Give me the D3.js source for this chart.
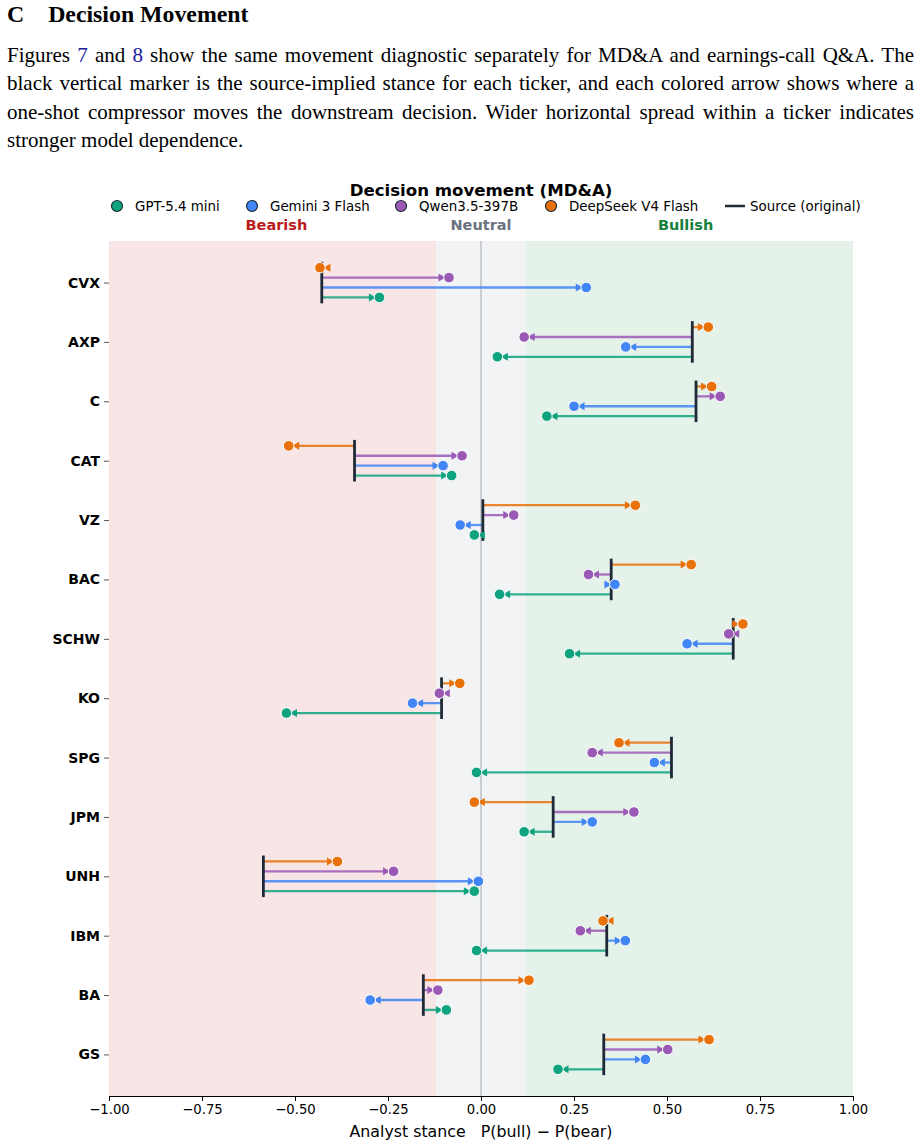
<!DOCTYPE html>
<html>
<head>
<meta charset="utf-8">
<script src="https://cdn.jsdelivr.net/npm/d3@7"></script>
<style>
  body { margin: 0; background: #fff; width: 921px; height: 1146px; position: relative; overflow: hidden; }
  .heading { position: absolute; left: 7px; top: 1px; font-family: "Liberation Serif", serif; font-weight: bold; font-size: 23.8px; color: #000; }
  .para { position: absolute; left: 7px; top: 41px; width: 907px; font-family: "Liberation Serif", serif; font-size: 21px; line-height: 28.3px; color: #000; }
  .para div { text-align: justify; text-align-last: justify; white-space: nowrap; }
  .para div.last { text-align-last: left; }
  .para a { color: #1a1a9c; text-decoration: none; }
  svg { position: absolute; left: 0; top: 0; }
</style>
</head>
<body>
<div class="heading">C<span style="display:inline-block;width:24px"></span>Decision Movement</div>
<div class="para">
  <div>Figures <a>7</a> and <a>8</a> show the same movement diagnostic separately for MD&amp;A and earnings-call Q&amp;A. The</div>
  <div>black vertical marker is the source-implied stance for each ticker, and each colored arrow shows where a</div>
  <div>one-shot compressor moves the downstream decision. Wider horizontal spread within a ticker indicates</div>
  <div class="last">stronger model dependence.</div>
</div>
<div id="chart"></div>
<script>
const tickers = ["CVX", "AXP", "C", "CAT", "VZ", "BAC", "SCHW", "KO", "SPG", "JPM", "UNH", "IBM", "BA", "GS"]
const source = [-0.428, 0.568, 0.578, -0.340, 0.005, 0.350, 0.678, -0.106, 0.512, 0.194, -0.585, 0.338, -0.155, 0.330]

const models = ["GPT-5.4 mini", "Gemini 3 Flash", "Qwen3.5-397B", "DeepSeek V4 Flash"]
const modelColors = ["#10a37f", "#4285f4", "#9b59b6", "#e8710a"]

const gptMini = [-0.273, 0.044, 0.177, -0.079, -0.018, 0.050, 0.238, -0.523, -0.012, 0.116, -0.018, -0.012, -0.093, 0.207]
const gemini = [0.283, 0.389, 0.250, -0.102, -0.056, 0.360, 0.554, -0.184, 0.466, 0.299, -0.007, 0.388, -0.298, 0.442]
const qwen = [-0.086, 0.116, 0.643, -0.051, 0.088, 0.289, 0.666, -0.112, 0.299, 0.411, -0.235, 0.267, -0.116, 0.502]
const deepseek = [-0.433, 0.611, 0.620, -0.517, 0.415, 0.565, 0.704, -0.057, 0.371, -0.018, -0.386, 0.328, 0.129, 0.613]
const modelValues = [gptMini, gemini, qwen, deepseek]
// vertical offset of each model's arrow within a ticker row
const modelOffsets = [0.25, 0.0833, -0.0833, -0.25]

const regions = [
  { label: "Bearish", from: -1, to: -0.12, fill: "#f8e5e5", color: "#b91c1c", at: -0.55 },
  { label: "Neutral", from: -0.12, to: 0.12, fill: "#f2f3f5", color: "#6b7280", at: 0 },
  { label: "Bullish", from: 0.12, to: 1, fill: "#e5f2e9", color: "#15803d", at: 0.55 }
]
const xTicks = [-1, -0.75, -0.5, -0.25, 0, 0.25, 0.5, 0.75, 1]

const width = 921, height = 1146
const plotLeft = 109, plotRight = 853, plotTop = 241, plotBottom = 1096

const svg = d3.select("#chart").append("svg")
  .attr("width", width)
  .attr("height", height)
  .style("font-family", "'DejaVu Sans', sans-serif")

const x = d3.scaleLinear().domain([-1, 1]).range([plotLeft, plotRight])
const y = d3.scaleLinear().domain([-0.7, tickers.length - 0.3]).range([plotTop, plotBottom])

// stance regions
svg.append("g").selectAll("rect")
  .data(regions)
  .join("rect")
  .attr("x", d => x(d.from))
  .attr("width", d => x(d.to) - x(d.from))
  .attr("y", plotTop)
  .attr("height", plotBottom - plotTop)
  .attr("fill", d => d.fill)

svg.append("line")
  .attr("x1", x(0)).attr("x2", x(0))
  .attr("y1", plotTop).attr("y2", plotBottom)
  .attr("stroke", "#a3a8b0")
  .attr("stroke-width", 1)

svg.append("g").selectAll("text")
  .data(regions)
  .join("text")
  .attr("x", d => x(d.at))
  .attr("y", 230)
  .attr("text-anchor", "middle")
  .attr("font-weight", "bold")
  .attr("font-size", 14.5)
  .attr("fill", d => d.color)
  .text(d => d.label)

// title + legend
svg.append("text")
  .attr("x", x(0))
  .attr("y", 196)
  .attr("text-anchor", "middle")
  .attr("font-weight", "bold")
  .attr("font-size", 16.6)
  .text("Decision movement (MD&A)")

const legendX = [117, 252, 401, 551]
const legend = svg.append("g")
models.forEach((m, i) => {
  legend.append("circle")
    .attr("cx", legendX[i]).attr("cy", 206).attr("r", 5.5)
    .attr("fill", modelColors[i])
    .attr("stroke", "#1f2937").attr("stroke-width", 1.2)
  legend.append("text")
    .attr("x", legendX[i] + 18).attr("y", 210.5)
    .attr("font-size", 13.4)
    .text(m)
})
legend.append("line")
  .attr("x1", 725).attr("x2", 745).attr("y1", 206).attr("y2", 206)
  .attr("stroke", "#1f2937").attr("stroke-width", 2.5)
legend.append("text")
  .attr("x", 750).attr("y", 210.5)
  .attr("font-size", 13.4)
  .text("Source (original)")

// arrows
const moves = []
tickers.forEach((t, i) => {
  modelValues.forEach((vals, m) => {
    moves.push({ row: i, model: m, from: source[i], to: vals[i] })
  })
})

svg.append("g").selectAll("line")
  .data(moves)
  .join("line")
  .attr("x1", d => x(d.from))
  .attr("x2", d => x(d.to))
  .attr("y1", d => y(d.row + modelOffsets[d.model]))
  .attr("y2", d => y(d.row + modelOffsets[d.model]))
  .attr("stroke", d => modelColors[d.model])
  .attr("stroke-width", 2.3)
  .attr("stroke-opacity", 0.85)

svg.append("g").selectAll("line")
  .data(source)
  .join("line")
  .attr("x1", d => x(d)).attr("x2", d => x(d))
  .attr("y1", (d, i) => y(i - 0.35))
  .attr("y2", (d, i) => y(i + 0.35))
  .attr("stroke", "#1f2937")
  .attr("stroke-width", 2.8)

svg.append("g").selectAll("path")
  .data(moves)
  .join("path")
  .attr("d", d => {
    const dir = d.to >= d.from ? 1 : -1
    const ex = x(d.to), ey = y(d.row + modelOffsets[d.model])
    const tip = ex - dir * 3.5, base = ex - dir * 10.5
    return `M${tip},${ey}L${base},${ey - 4}L${base},${ey + 4}Z`
  })
  .attr("fill", d => modelColors[d.model])

svg.append("g").selectAll("circle")
  .data(moves)
  .join("circle")
  .attr("cx", d => x(d.to))
  .attr("cy", d => y(d.row + modelOffsets[d.model]))
  .attr("r", 5.3)
  .attr("fill", d => modelColors[d.model])
  .attr("stroke", "#fff")
  .attr("stroke-width", 1)

// axes
const xAxis = svg.append("g")
  .attr("transform", `translate(0,${plotBottom})`)
  .call(d3.axisBottom(x).tickValues(xTicks).tickSize(5).tickPadding(4)
    .tickFormat(d => d3.format(".2f")(d).replace("-", "\u2212")))
xAxis.select(".domain").attr("stroke", "#000").attr("stroke-width", 1)
xAxis.selectAll("text").attr("font-size", 13.2).attr("fill", "#000")
  .style("font-family", "'DejaVu Sans', sans-serif")

const yAxis = svg.append("g")
  .attr("transform", `translate(${plotLeft},0)`)
  .call(d3.axisLeft(y).tickValues(d3.range(tickers.length)).tickSize(5).tickPadding(4)
    .tickFormat(i => tickers[i]))
yAxis.select(".domain").remove()
yAxis.selectAll("line").attr("stroke", "#555")
yAxis.selectAll("text").attr("font-size", 14).attr("font-weight", "bold").attr("fill", "#000")
  .style("font-family", "'DejaVu Sans', sans-serif")

svg.append("text")
  .attr("x", x(0))
  .attr("y", 1137)
  .attr("text-anchor", "middle")
  .attr("font-size", 15.8)
  .style("white-space", "pre")
  .text("Analyst stance   P(bull) \u2212 P(bear)")
</script>
</body>
</html>
